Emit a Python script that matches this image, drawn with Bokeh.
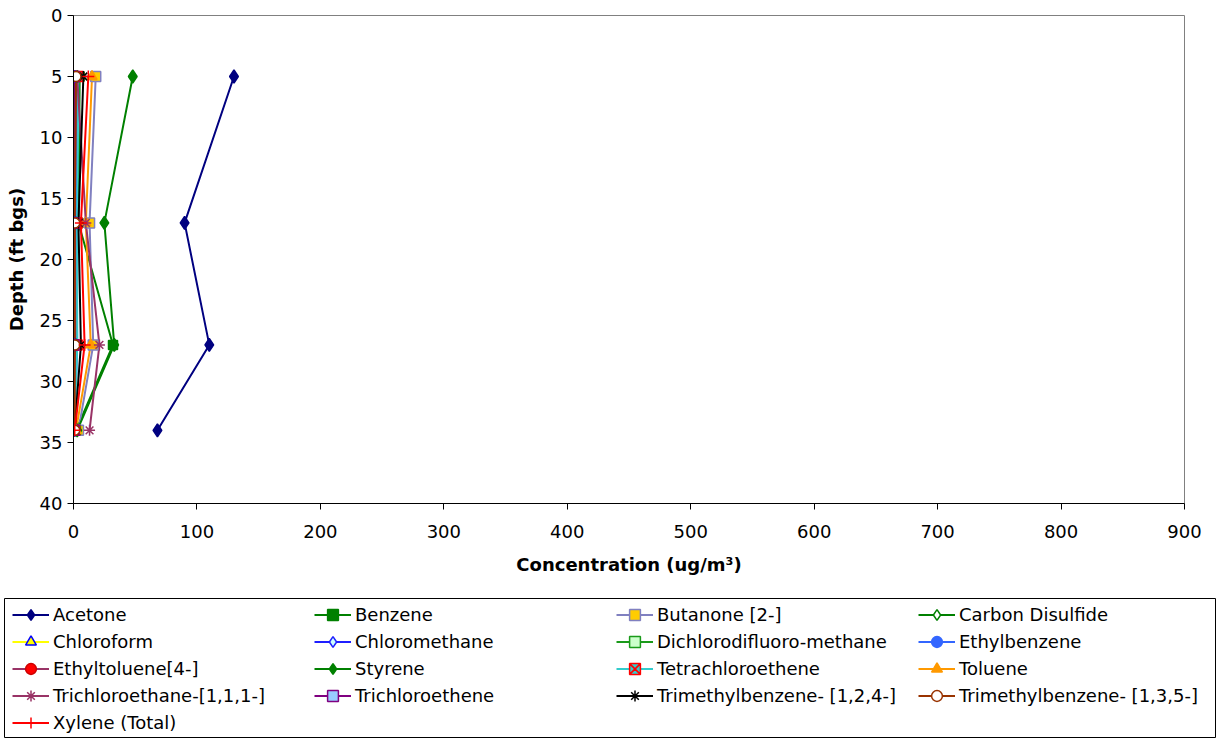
from bokeh.plotting import figure
from bokeh.models import Range1d, FixedTicker, Legend, LegendItem
from bokeh.embed import file_html
from bokeh.resources import INLINE

# ---------------- data ----------------
depths = [5, 17, 27, 34]
acetone = [130, 90, 110, 68]
benzene = [5, 4, 32, 2]
butanone = [18, 13, 16, 4]
carbon_disulfide = [3, 2, 2, 1]
chloroform = [1, 1, 1, 1]
chloromethane = [1, 1, 1, 1]
dichlorodifluoromethane = [2, 2, 2, 2]
ethylbenzene = [3, 2, 3, 1]
ethyltoluene = [2, 1, 2, 1]
styrene = [48, 25, 33, 3]
tetrachloroethene = [4, 3, 3, 1]
toluene = [15, 10, 14, 2]
trichloroethane = [3, 10, 21, 13]
trichloroethene = [0.5, 0.5, 0.5, 0.5]
tmb124 = [8, 4, 6, 1]
tmb135 = [2, 1, 1, 1]
xylene = [12, 6, 9, 1]

names = ["Acetone", "Benzene", "Butanone [2-]", "Carbon Disulfide",
         "Chloroform", "Chloromethane", "Dichlorodifluoro-methane", "Ethylbenzene",
         "Ethyltoluene[4-]", "Styrene", "Tetrachloroethene", "Toluene",
         "Trichloroethane-[1,1,1-]", "Trichloroethene", "Trimethylbenzene- [1,2,4-]",
         "Trimethylbenzene- [1,3,5-]", "Xylene (Total)"]
values = [acetone, benzene, butanone, carbon_disulfide, chloroform, chloromethane,
          dichlorodifluoromethane, ethylbenzene, ethyltoluene, styrene,
          tetrachloroethene, toluene, trichloroethane, trichloroethene,
          tmb124, tmb135, xylene]

x_ticks = [0, 100, 200, 300, 400, 500, 600, 700, 800, 900]
y_ticks = [0, 5, 10, 15, 20, 25, 30, 35, 40]

# ---------------- styles ----------------
# (line colour, marker, marker fill, marker edge, marker size)
styles = [
    ("#000080", "diamond", "#000080", "#000080", 13),
    ("#008000", "square", "#008000", "#008000", 9),
    ("#8080C0", "square", "#FFCC00", "#8080C0", 10),
    ("#008000", "diamond", "#FFFFFF", "#008000", 12),
    ("#FFFF00", "triangle", "#FFFF00", "#0000FF", 10),
    ("#1F1FFF", "diamond", "#CCFFFF", "#1F1FFF", 12),
    ("#1A9A1A", "square", "#CCFFCC", "#1A9A1A", 9),
    ("#3366FF", "circle", "#3366FF", "#3366FF", 10),
    ("#993366", "circle", "#FF0000", "#CC0000", 10),
    ("#008000", "diamond", "#008000", "#008000", 13),
    ("#33CCCC", "square_x", "#33CCCC", "#FF0000", 10),
    ("#FF9900", "triangle", "#FF9900", "#FF9900", 10),
    ("#993366", "asterisk", "#993366", "#993366", 11),
    ("#800080", "square", "#99CCFF", "#800080", 10),
    ("#000000", "asterisk", "#000000", "#000000", 11),
    ("#993300", "circle", "#FFFFFF", "#993300", 10),
    ("#FF0000", "cross", "#FF0000", "#FF0000", 12),
]

FONT = "DejaVu Sans"
FS = "18px"

# ---------------- main chart ----------------
p = figure(width=1216, height=598, x_range=Range1d(0, 900), y_range=Range1d(40, 0),
           output_backend="svg", toolbar_location=None,
           min_border_left=73, min_border_right=32, min_border_top=15, min_border_bottom=95)
p.xgrid.visible = False
p.ygrid.visible = False
p.outline_line_color = "#808080"
p.outline_line_width = 1
p.background_fill_color = "white"
p.border_fill_color = "white"

for ax, ticks in ((p.xaxis, x_ticks), (p.yaxis, y_ticks)):
    ax.ticker = FixedTicker(ticks=ticks)
    ax.axis_line_color = "black"
    ax.axis_line_width = 1
    ax.major_tick_line_color = "black"
    ax.major_tick_out = 6
    ax.major_tick_in = 0
    ax.minor_tick_line_color = None
    ax.major_label_text_font = FONT
    ax.major_label_text_font_size = FS
    ax.major_label_text_color = "black"
    ax.axis_label_text_font = FONT
    ax.axis_label_text_font_size = FS
    ax.axis_label_text_font_style = "bold"
    ax.axis_label_text_color = "black"

p.xaxis.axis_label = "Concentration (ug/m³)"
p.yaxis.axis_label = "Depth (ft bgs)"
p.xaxis.major_label_standoff = 15
p.xaxis.axis_label_standoff = 13
p.yaxis.major_label_standoff = 5
p.yaxis.axis_label_standoff = 10

for vals, (lc, mk, fc, ec, sz) in zip(values, styles):
    p.line(vals, depths, line_color=lc, line_width=2)
for vals, (lc, mk, fc, ec, sz) in zip(values, styles):
    p.scatter(vals, depths, marker=mk, size=sz, fill_color=fc, line_color=ec, line_width=1.5)

# ---------------- legend panel ----------------
lg = figure(width=1216, height=140, x_range=Range1d(1000, 1001), y_range=Range1d(1000, 1001),
            x_axis_location=None, y_axis_location=None, output_backend="svg",
            toolbar_location=None, min_border=0, min_border_left=4)
lg.xgrid.visible = False
lg.ygrid.visible = False
lg.outline_line_color = "black"
lg.outline_line_width = 1

items = []
for name, vals, (lc, mk, fc, ec, sz) in zip(names, values, styles):
    r1 = lg.line(vals, depths, line_color=lc, line_width=2)
    r2 = lg.scatter(vals, depths, marker=mk, size=sz, fill_color=fc, line_color=ec, line_width=1.5)
    items.append(LegendItem(label=name, renderers=[r1, r2]))

legend = Legend(items=items, location=(6, 0), orientation="horizontal", ncols=4,
                margin=0, padding=2, spacing=0,
                glyph_width=37, glyph_height=27, label_standoff=4,
                label_width=261, label_height=20,
                label_text_font=FONT, label_text_font_size=FS, label_text_color="black",
                border_line_alpha=0, background_fill_alpha=0)
lg.add_layout(legend, "center")

open("out.html", "w").write(file_html([p, lg], INLINE))
